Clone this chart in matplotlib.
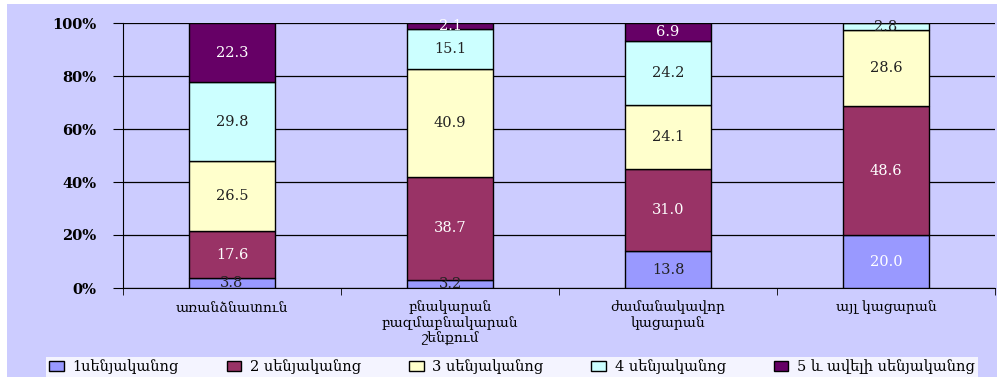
import numpy as np
import matplotlib.pyplot as plt
from matplotlib.patches import Rectangle

plt.rcParams['font.family'] = ['DejaVu Serif', 'DejaVu Sans']

categories = ['առանձնատուն', 'բնակարան\nբազմաբնակարան\nշենքում',
              'ժամանակավոր\nկացարան', 'այլ կացարան']
series_names = ['1սենյականոց', '2 սենյականոց', '3 սենյականոց',
                '4 սենյականոց', '5 և ավելի սենյականոց']
one_room = [3.8, 3.2, 13.8, 20.0]
two_room = [17.6, 38.7, 31.0, 48.6]
three_room = [26.5, 40.9, 24.1, 28.6]
four_room = [29.8, 15.1, 24.2, 2.8]
five_room = [22.3, 2.1, 6.9, 0.0]

colors = ['#9999FF', '#993366', '#FFFFCC', '#CCFFFF', '#660066']
text_colors = [['#222222', '#222222', '#222222', 'white'],
               ['white'] * 4, ['#222222'] * 4, ['#222222'] * 4, ['white'] * 4]

fig = plt.figure(figsize=(10.08, 3.77), dpi=100, facecolor='white')
fig.patches.append(Rectangle((7 / 1008, 0), 990 / 1008, 373 / 377,
                             transform=fig.transFigure, facecolor='#CCCCFF',
                             edgecolor='none', zorder=-10))
ax = fig.add_axes([123 / 1008, 89 / 377, 872 / 1008, 265 / 377])
ax.set_facecolor('#CCCCFF')

x = np.arange(len(categories))
bottom = np.zeros(len(categories))
all_series = [one_room, two_room, three_room, four_room, five_room]
for i, vals in enumerate(all_series):
    vals = np.array(vals)
    ax.bar(x, vals, width=0.395, bottom=bottom, color=colors[i],
           edgecolor='black', linewidth=1, label=series_names[i], zorder=3)
    for j, v in enumerate(vals):
        if v > 0:
            ax.text(x[j], bottom[j] + v / 2, f'{v:.1f}', ha='center',
                    va='center', fontsize=10.5, color=text_colors[i][j], zorder=4)
    bottom += vals

ax.set_xlim(-0.5, len(categories) - 0.5)
ax.set_ylim(0, 100)
ax.set_yticks(range(0, 101, 20))
ax.set_yticklabels([f'{t}%' for t in range(0, 101, 20)], fontsize=10.5,
                   fontweight='bold')
ax.yaxis.grid(True, color='black', linewidth=0.9, zorder=0)
ax.set_axisbelow(True)

ax.set_xticks(x)
ax.set_xticklabels(categories, fontsize=10, linespacing=1.15)
ax.tick_params(axis='x', length=0, pad=9)
ax.set_xticks(np.arange(-0.5, len(categories)), minor=True)
ax.tick_params(axis='x', which='minor', length=5, color='black')
ax.tick_params(axis='y', length=7, color='black', pad=12)
for s in ['top', 'right']:
    ax.spines[s].set_visible(False)
ax.spines['left'].set_color('black')
ax.spines['bottom'].set_color('black')

leg = fig.legend(loc='lower left', bbox_to_anchor=(39 / 1008, -0.02, 946 / 1008, 22 / 377),
                 mode='expand', ncol=5, fontsize=10.5, frameon=True, fancybox=False,
                 handlelength=1.0, handleheight=0.7, borderpad=0.2,
                 columnspacing=0.8, handletextpad=0.6)
leg.get_frame().set_facecolor('white')
leg.get_frame().set_edgecolor('none')
for h in leg.legend_handles:
    h.set_edgecolor('black')

fig.savefig('out.png', dpi=100, facecolor=fig.get_facecolor())
